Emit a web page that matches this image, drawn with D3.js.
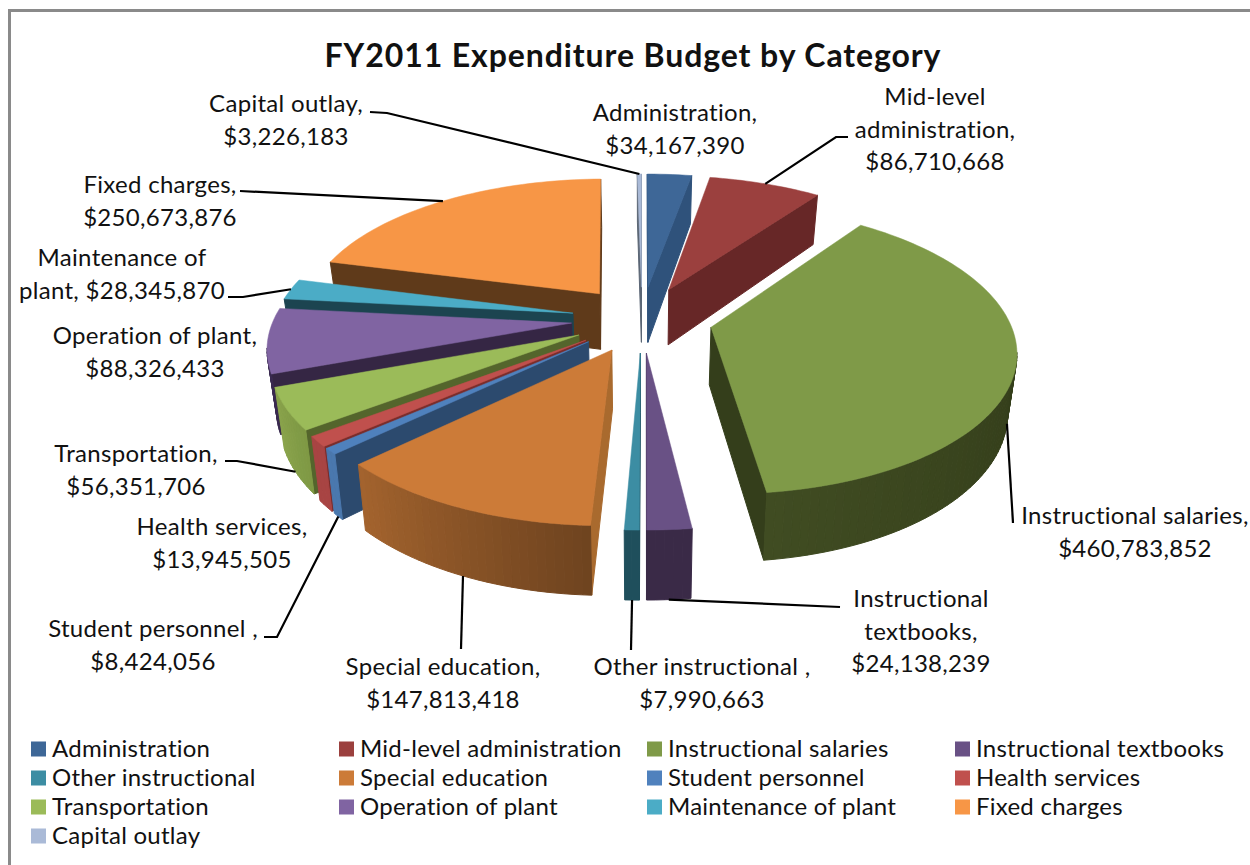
<!DOCTYPE html>
<html>
<head>
<meta charset="utf-8">
<script src="https://cdn.jsdelivr.net/npm/d3@7"></script>
<style>
  html, body { margin: 0; padding: 0; background: #fff; }
  svg { display: block; }
  text { font-family: Lato, "Liberation Sans", sans-serif; fill: #111; }
</style>
</head>
<body>
<svg width="1250" height="865"></svg>
<script>
var categories = ["Administration", "Mid-level administration", "Instructional salaries",
  "Instructional textbooks", "Other instructional", "Special education", "Student personnel",
  "Health services", "Transportation", "Operation of plant", "Maintenance of plant",
  "Fixed charges", "Capital outlay"];
var values = [34167390, 86710668, 460783852, 24138239, 7990663, 147813418, 8424056,
  13945505, 56351706, 88326433, 28345870, 250673876, 3226183];
var title = "FY2011 Expenditure Budget by Category";

// colours per slice: top face, straight walls, curved wall start -> end
var topColors = ["#3e6797", "#9b403e", "#7f9a48", "#695185", "#3c8da3", "#cc7b38", "#4f81bd",
  "#c0504d", "#9bbb59", "#8064a2", "#4bacc6", "#f79646", "#aabad7"];
var sideColors = ["#2f527b", "#672727", "#343e1b", "#3a2a47", "#1f4f5c", "#a96a2e", "#2c4a6e",
  "#7a2d2c", "#54652c", "#352644", "#1c4450", "#5f3a1a", "#5b6675"];
var rimFrom = ["#2f527b", "#672727", "#272f12", "#3a2a47", "#1f4f5c", "#6e431f", "#4a78ae",
  "#a84443", "#7e9844", "#3a2a50", "#1c4450", "#5f3a1a", "#5b6675"];
var rimTo = ["#2f527b", "#672727", "#404c22", "#3a2a47", "#1f4f5c", "#a4642e", "#4a78ae",
  "#a84443", "#8aa54c", "#3a2a50", "#1c4450", "#5f3a1a", "#5b6675"];

var svg = d3.select("svg");

// chart frame, right and bottom edges run off the picture
svg.append("rect")
  .attr("x", 9.5).attr("y", 10.5)
  .attr("width", 1300).attr("height", 900)
  .attr("fill", "#fff")
  .attr("stroke", "#8a8a8a")
  .attr("stroke-width", 3);

svg.append("text")
  .attr("x", 633).attr("y", 67)
  .attr("text-anchor", "middle")
  .attr("font-size", 32).attr("font-weight", 700)
  .attr("letter-spacing", 0.9)
  .text(title);

// the pie lies flat on a unit disc, project() tilts it and adds perspective
var persp = 0.15;
var explode = 0.237;
var depth = 57;
var shrink = 0.025;
var xScale = d3.scaleLinear().domain([-1, 1]).range([344, 940]);
var yScale = d3.scaleLinear().domain([-1, 1]).range([180, 458]);

function project(u, v, z) {
  var s = 1 / (1 - persp * v);
  return [xScale(u * s * (1 - shrink * z)), yScale(v * s) + depth * z * s];
}

var arcs = d3.pie().sort(null).value(d => d)(values);

function rim(d, a, z) {
  var mid = (d.startAngle + d.endAngle) / 2;
  return project(Math.sin(a) + explode * Math.sin(mid), -Math.cos(a) - explode * Math.cos(mid), z);
}
function apex(d, z) {
  var mid = (d.startAngle + d.endAngle) / 2;
  return project(explode * Math.sin(mid), -explode * Math.cos(mid), z);
}
function rimAngles(d) {
  var n = Math.max(2, Math.ceil((d.endAngle - d.startAngle) / (Math.PI / 120)));
  return d3.range(n + 1).map(i => d.startAngle + (d.endAngle - d.startAngle) * i / n);
}

var line = d3.line();

function wall(g, a, b, color) {
  g.append("path")
    .attr("d", line([a(0), b(0), b(1), a(1)]) + "Z")
    .attr("fill", color)
    .attr("stroke", color)
    .attr("stroke-width", 1);
}

// back slices first so the front ones sit on top of them
var order = arcs.slice().sort((p, q) =>
  Math.cos((q.startAngle + q.endAngle) / 2) - Math.cos((p.startAngle + p.endAngle) / 2));

var chart = svg.append("g").attr("class", "chart");

order.forEach(function(d) {
  var g = chart.append("g").attr("class", "slice");
  var i = d.index;
  var angles = rimAngles(d);
  var pa = z => apex(d, z);
  var ps = z => rim(d, d.startAngle, z);
  var pe = z => rim(d, d.endAngle, z);
  var rimColor = d3.scaleLinear().domain([d.startAngle, d.endAngle])
    .range([rimFrom[i], rimTo[i]]).interpolate(d3.interpolateRgb);

  // going clockwise round the face, only edges running right to left face the viewer
  if (ps(0)[0] < pa(0)[0]) wall(g, pa, ps, sideColors[i]);
  if (pa(0)[0] < pe(0)[0]) wall(g, pe, pa, sideColors[i]);
  for (var k = 0; k < angles.length - 1; k++) {
    let a0 = angles[k], a1 = angles[k + 1];
    if (rim(d, a0, 0)[0] > rim(d, a1, 0)[0]) {
      wall(g, z => rim(d, a0, z), z => rim(d, a1, z), rimColor((a0 + a1) / 2));
    }
  }

  var face = [apex(d, 0)].concat(angles.map(a => rim(d, a, 0)));
  g.append("path")
    .attr("d", line(face) + "Z")
    .attr("fill", topColors[i])
    .attr("stroke", topColors[i])
    .attr("stroke-width", 0.5);
});

// data labels
var fmt = d3.format("$,");
var labels = [
  { i: 0,  x: 675,  y: 113, lines: ["Administration,", fmt(values[0])] },
  { i: 1,  x: 935,  y: 97,  lines: ["Mid-level", "administration,", fmt(values[1])], lead: [[848, 137], [836, 137]] },
  { i: 2,  x: 1135, y: 516, lines: ["Instructional salaries,", fmt(values[2])], lead: [[1013, 523]] },
  { i: 3,  x: 921,  y: 599, lines: ["Instructional", "textbooks,", fmt(values[3])], lead: [[840, 607]] },
  { i: 4,  x: 702,  y: 667, lines: ["Other instructional ,", fmt(values[4])], lead: [[631, 650]] },
  { i: 5,  x: 443,  y: 667, lines: ["Special education,", fmt(values[5])], lead: [[461, 649]] },
  { i: 6,  x: 153,  y: 629, lines: ["Student personnel ,", fmt(values[6])], lead: [[264, 637], [277, 637]] },
  { i: 7,  x: 222,  y: 527, lines: ["Health services,", fmt(values[7])] },
  { i: 8,  x: 136,  y: 454, lines: ["Transportation,", fmt(values[8])], lead: [[225, 461], [237, 461]] },
  { i: 9,  x: 155,  y: 336, lines: ["Operation of plant,", fmt(values[9])] },
  { i: 10, x: 122,  y: 258, lines: ["Maintenance of", "plant, " + fmt(values[10])], lead: [[228, 297], [243, 297]] },
  { i: 11, x: 160,  y: 185, lines: ["Fixed charges,", fmt(values[11])], lead: [[240, 191]] },
  { i: 12, x: 286,  y: 104, lines: ["Capital outlay,", fmt(values[12])], lead: [[370, 112], [387, 113]] }
];

labels.forEach(function(l) {
  l.lines.forEach(function(t, k) {
    svg.append("text")
      .attr("x", l.x).attr("y", l.y + k * 32.3)
      .attr("dy", "0.35em")
      .attr("text-anchor", "middle")
      .attr("font-size", 24)
      .attr("letter-spacing", 0.3)
      .text(t);
  });
  if (l.lead) {
    // leader ends on the rim at the slice bisector, lower rim for the front half
    var d = arcs[l.i];
    var mid = (d.startAngle + d.endAngle) / 2;
    var end = rim(d, mid, Math.cos(mid) < 0 ? 1 : 0);
    svg.append("path")
      .attr("d", line(l.lead.concat([end])))
      .attr("fill", "none")
      .attr("stroke", "#000")
      .attr("stroke-width", 2.2);
  }
});

// legend, filled row by row
var legendX = d3.scaleLinear().domain([0, 3]).range([31, 955]);
var legendY = d3.scaleLinear().domain([0, 3]).range([749, 836]);
var legend = svg.append("g").selectAll("g")
  .data(categories)
  .enter()
  .append("g")
    .attr("transform", (d, i) => "translate(" + legendX(i % 4) + "," + legendY(Math.floor(i / 4)) + ")");
legend.append("rect")
  .attr("x", 0).attr("y", -7.5)
  .attr("width", 15).attr("height", 15)
  .attr("fill", (d, i) => topColors[i]);
legend.append("text")
  .attr("x", 21).attr("dy", "0.35em")
  .attr("font-size", 24)
  .attr("letter-spacing", 0.25)
  .text(d => d);
</script>
</body>
</html>
